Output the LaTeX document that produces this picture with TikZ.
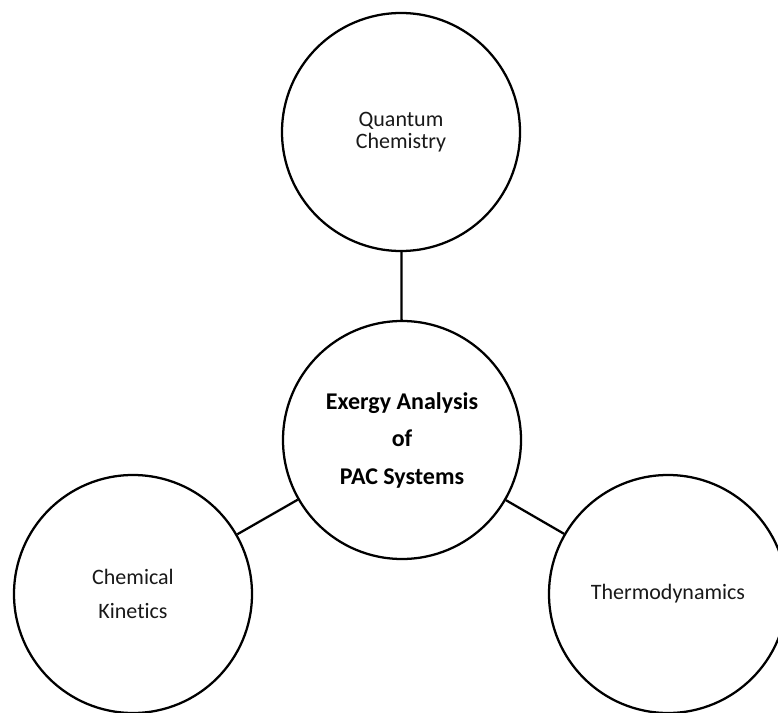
\documentclass[tikz,border=0pt]{standalone}
\usepackage{fontspec}
\setmainfont{Carlito}[RawFeature=-liga]
\begin{document}
\begin{tikzpicture}[x=0.75pt,y=-0.75pt,
  topic/.style={draw=black, line width=1.7pt, circle, minimum size=178.5pt, inner sep=0pt, align=center, text=black!90},
  topicfont/.style={font=\fontsize{16.5}{16.7}\selectfont},
  mainfont/.style={font=\bfseries\fontsize{18}{28.1}\selectfont, text=black},
  link/.style={draw=black, line width=1.7pt}]
\path[use as bounding box] (0,0) rectangle (778,713);
\fill[white] (0,0) rectangle (778,713);
\begin{scope}
\clip (0,0) rectangle (778,713);
\node[topic, topicfont] (qc) at (401,132) {Quantum\\Chemistry};
\node[topic, mainfont] (ex) at (402,440) {Exergy Analysis\\of\\PAC Systems};
\node[topic, font=\fontsize{16.5}{25.5}\selectfont] (ck) at (133,594) {Chemical\\Kinetics};
\node[topic, topicfont] (th) at (668,594) {Thermodynamics};
\draw[link] (qc) -- (ex);
\draw[link] (ex) -- (ck);
\draw[link] (ex) -- (th);
\end{scope}
\end{tikzpicture}
\end{document}
